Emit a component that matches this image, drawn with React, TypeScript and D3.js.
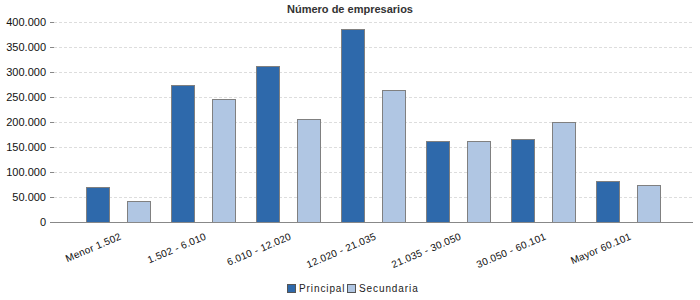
import React from "react";
import * as d3 from "d3";

const categories = ["Menor 1.502", "1.502 - 6.010", "6.010 - 12.020", "12.020 - 21.035", "21.035 - 30.050", "30.050 - 60.101", "Mayor 60.101"];
const seriesNames = ["Principal", "Secundaria"];
const principal = [70000, 274000, 312000, 386000, 161000, 167000, 83000];
const secundaria = [42000, 246000, 206000, 265000, 163000, 201000, 75000];
const yTicks = [0, 50000, 100000, 150000, 200000, 250000, 300000, 350000, 400000];
const colors = ["#2E69AB", "#B0C6E3"];

const W = 700, H = 300;
const plotLeft = 54, plotRight = 693, plotTop = 22, plotBottom = 222;

const fmt = (v: number) => d3.format(",")(v).replace(/,/g, ".");

export default function App() {
  const x = d3.scaleBand<string>().domain(categories).range([75.5, 670.5]).paddingInner(0).paddingOuter(0);
  const xs = d3.scaleBand<string>().domain(seriesNames).range([0, x.bandwidth()]).paddingInner(0.439).paddingOuter(0.256);
  const y = d3.scaleLinear().domain([0, 400000]).range([plotBottom, plotTop]);
  const series = [principal, secundaria];
  const font = "'Liberation Sans', Arial, sans-serif";
  return (
    <svg width={W} height={H} style={{ position: "absolute", left: 0, top: 0, fontFamily: font }}>
      <rect x={0} y={0} width={W} height={H} fill="#fff" />
      <text x={350} y={13} textAnchor="middle" fontSize={11} fontWeight="bold" fill="#333">Número de empresarios</text>
      {yTicks.map((t) => (
        <g key={t}>
          {t > 0 && (
            <line x1={plotLeft} x2={plotRight} y1={y(t) + 0.5} y2={y(t) + 0.5} stroke="#ddd" strokeDasharray="3,2" />
          )}
          <line x1={plotLeft - 4} x2={plotLeft} y1={y(t) + 0.5} y2={y(t) + 0.5} stroke="#888" />
          <text x={plotLeft - 8} y={y(t) + 4} textAnchor="end" fontSize={11} fill="#111">{fmt(t)}</text>
        </g>
      ))}
      {series.map((vals, si) =>
        vals.map((v, i) => (
          <rect
            key={si + "-" + i}
            x={Math.round(x(categories[i])! + xs(seriesNames[si])!) + 0.5}
            y={Math.round(y(v)) + 0.5}
            width={Math.round(xs.bandwidth())}
            height={plotBottom - Math.round(y(v))}
            fill={colors[si]}
            stroke="#808080"
            strokeWidth={1}
          />
        ))
      )}
      <line x1={plotLeft} x2={plotRight} y1={plotBottom + 0.5} y2={plotBottom + 0.5} stroke="#888" />
      {categories.map((c) => {
        const cx = x(c)! + x.bandwidth() / 2 + 4;
        return (
          <text key={c} transform={`translate(${cx},${plotBottom + 17}) rotate(-23)`} textAnchor="end" fontSize={10} letterSpacing={0.3} fill="#111">{c}</text>
        );
      })}
      {seriesNames.map((s, i) => {
        const lx = [287, 347][i];
        return (
          <g key={s}>
            <rect x={lx + 0.5} y={284.5} width={8} height={8} fill={colors[i]} stroke="#555" />
            <text x={lx + 12} y={292} fontSize={10} letterSpacing={0.9} fill="#222">{s}</text>
          </g>
        );
      })}
    </svg>
  );
}
